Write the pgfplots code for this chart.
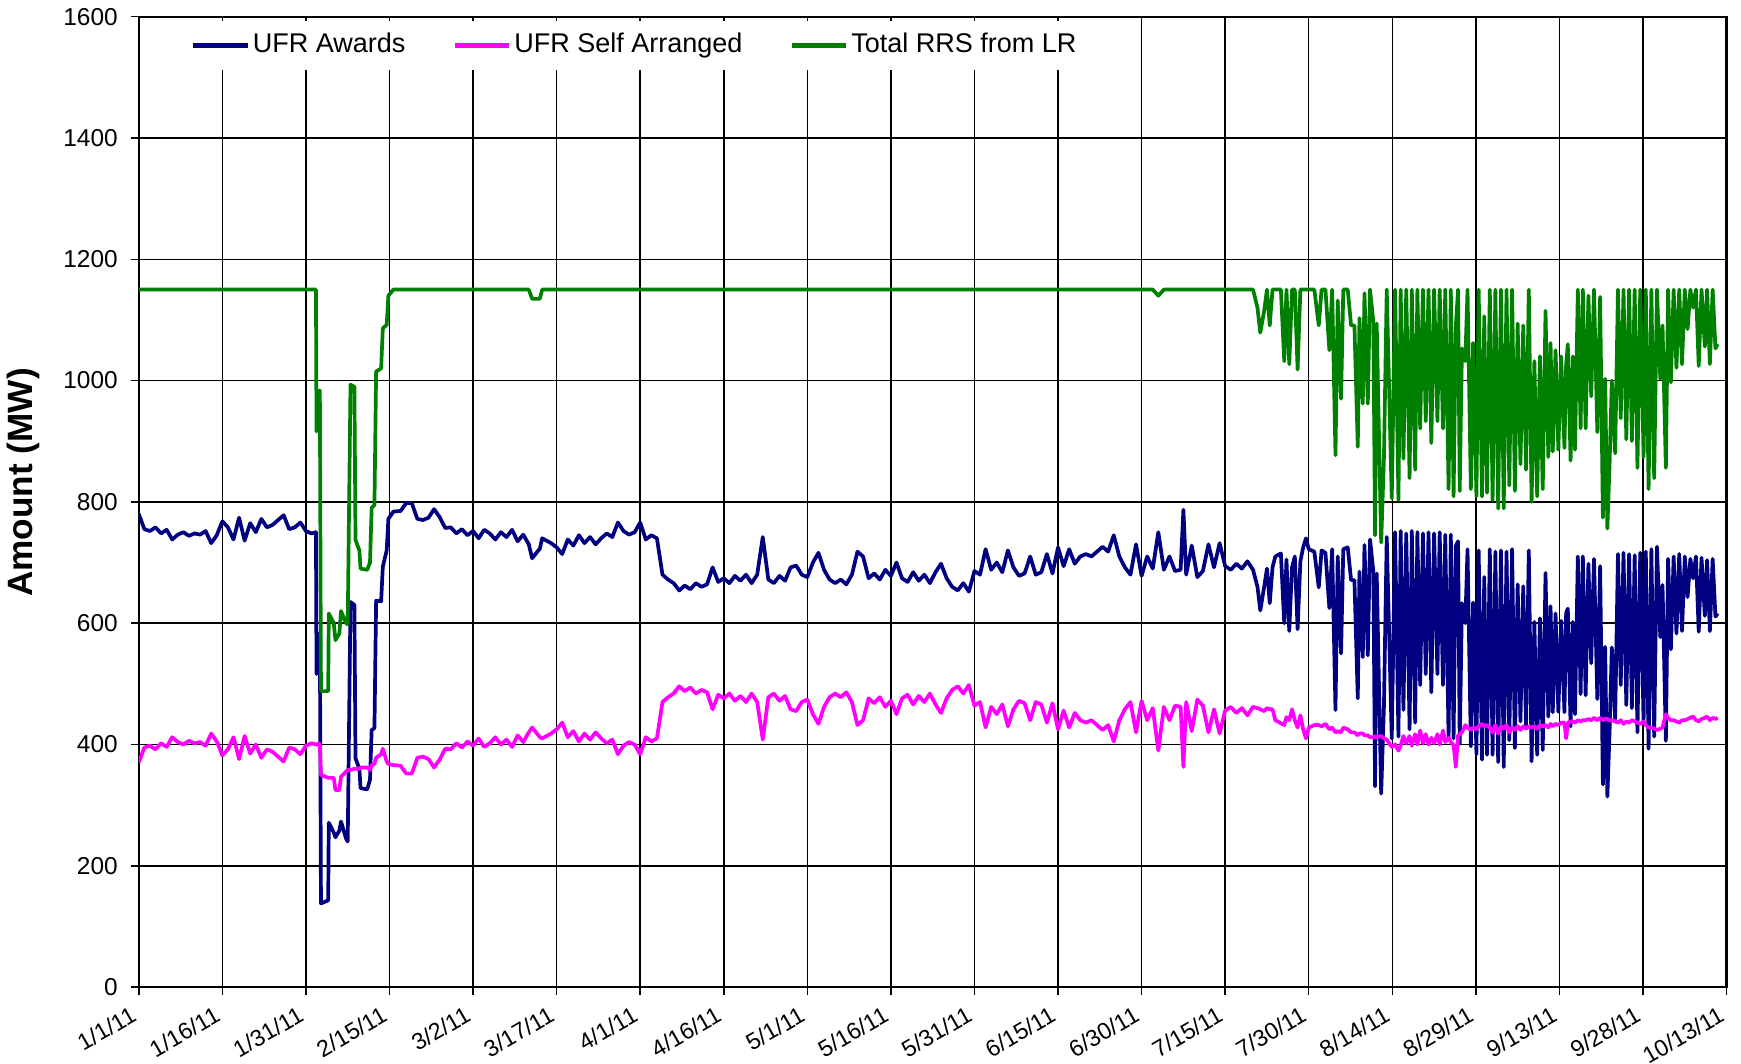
\documentclass[border=0pt]{standalone}
\usepackage{fontspec}
\setmainfont{Liberation Sans}
\usepackage{pgfplots}
\usepackage{pgfplotstable}
\pgfplotsset{compat=1.18}
\definecolor{cnavy}{RGB}{0,0,128}
\definecolor{cmag}{RGB}{255,0,255}
\definecolor{cgreen}{RGB}{0,128,0}

\pgfplotstableread{
d tot self awd
0 1150 370 780
1 1150 395 755
2 1150 398 752
3 1150 392 758
4 1150 402 748
5 1150 396 754
6 1150 412 738
7 1150 404 746
8 1150 400 750
9 1150 406 744
10 1150 402 748
11 1150 404 746
12 1150 398 752
13 1150 418 732
14 1150 405 745
15 1150 382 768
16 1150 392 758
17 1150 412 738
18 1150 376 774
19 1150 414 736
20 1150 385 765
21 1150 400 750
22 1150 378 772
23 1150 392 758
24 1150 388 762
25 1150 380 770
26 1150 372 778
27 1150 395 755
28 1150 392 758
29 1150 384 766
30 1150 398 752
31 1150 402 748
31.8 1150 400 750
31.9 916 400 516
32.1 984 400 584
32.3 920 402 518
32.5 984 400 584
32.7 488 350 138
34.0 488 345 143
34.1 616 345 271
35.0 600 345 255
35.3 572 325 247
36.0 583 325 258
36.3 620 347 273
37.2 600 355 245
37.5 598 358 240
38.0 993 358 635
38.7 990 360 630
38.9 737 360 377
39.6 720 360 360
39.8 690 362 328
41.0 688 362 326
41.5 700 358 342
41.8 790 366 424
42.3 795 368 427
42.6 1015 378 637
43.5 1020 384 636
43.8 1086 393 693
44.5 1092 372 720
44.8 1140 368 772
45.7 1150 366 784
47 1150 365 785
48 1150 352 798
49 1150 352 798
50 1150 378 772
51 1150 380 770
52 1150 376 774
53 1150 362 788
54 1150 375 775
55 1150 393 757
56 1150 392 758
57 1150 402 748
58 1150 395 755
59 1150 405 745
60 1150 398 752
61 1150 410 740
62 1150 396 754
63 1150 402 748
64 1150 412 738
65 1150 400 750
66 1150 408 742
67 1150 396 754
68 1150 415 735
69 1150 404 746
70 1150 420 730
70.6 1135 428 707
72 1135 412 723
72.4 1150 410 740
74 1150 418 732
75 1150 425 725
76 1150 436 714
77 1150 412 738
78 1150 422 728
79 1150 405 745
80 1150 418 732
81 1150 408 742
82 1150 420 730
83 1150 410 740
84 1150 402 748
85 1150 408 742
86 1150 384 766
87 1150 398 752
88 1150 404 746
89 1150 400 750
90 1150 384 766
91 1150 412 738
92 1150 405 745
93 1150 410 740
94 1150 470 680
95 1150 478 672
96 1150 484 666
97 1150 496 654
98 1150 488 662
99 1150 494 656
100 1150 484 666
101 1150 490 660
102 1150 486 664
103 1150 458 692
104 1150 482 668
105 1150 476 674
106 1150 484 666
107 1150 472 678
108 1150 480 670
109 1150 470 680
110 1150 484 666
111 1150 470 680
112 1150 408 742
113 1150 478 672
114 1150 484 666
115 1150 472 678
116 1150 480 670
117 1150 458 692
118 1150 455 695
119 1150 470 680
120 1150 474 676
121 1150 450 700
122 1150 434 716
123 1150 462 688
124 1150 478 672
125 1150 484 666
126 1150 478 672
127 1150 486 664
128 1150 470 680
129 1150 432 718
130 1150 440 710
131 1150 476 674
132 1150 468 682
133 1150 478 672
134 1150 462 688
135 1150 472 678
136 1150 450 700
137 1150 476 674
138 1150 482 668
139 1150 466 684
140 1150 480 670
141 1150 470 680
142 1150 484 666
143 1150 466 684
144 1150 452 698
145 1150 476 674
146 1150 490 660
147 1150 496 654
148 1150 484 666
149 1150 498 652
150 1150 464 686
151 1150 470 680
152 1150 428 722
153 1150 462 688
154 1150 450 700
155 1150 466 684
156 1150 430 720
157 1150 458 692
158 1150 472 678
159 1150 468 682
160 1150 440 710
161 1150 470 680
162 1150 466 684
163 1150 436 714
164 1150 468 682
165 1150 425 725
166 1150 456 694
167 1150 428 722
168 1150 452 698
169 1150 440 710
170 1150 436 714
171 1150 440 710
172 1150 432 718
173 1150 424 726
174 1150 432 718
175 1150 405 745
176 1150 440 710
177 1150 458 692
178 1150 470 680
179 1150 420 730
180 1150 472 678
181 1150 440 710
182 1150 460 690
183 1140 390 750
184 1150 462 688
185 1150 440 710
186 1150 464 686
187 1150 462 688
187.5 1150 363 787
188 1150 470 680
189 1150 422 728
190 1150 474 676
191 1150 464 686
192 1150 420 730
193 1150 458 692
194 1150 418 732
195 1150 456 694
196 1150 462 688
197 1150 452 698
198 1150 460 690
199 1150 448 702
200 1150 462 688
200.8 1120 460 660
201.3 1079 458 621
202 1115 455 660
202.5 1150 460 690
203 1091 458 633
203.5 1150 458 692
204 1150 440 710
205 1150 435 715
205.6 1032 432 600
206 1150 445 705
206.5 1027 440 587
207 1150 458 692
207.5 1150 440 710
208 1018 428 590
208.5 1150 448 702
209 1150 425 725
209.5 1150 410 740
210 1150 428 722
211 1150 432 718
211.8 1091 432 659
212.3 1150 430 720
213 1150 434 716
213.7 1050 425 625
214.2 1150 428 722
214.8 877 420 457
215.2 1132 422 710
215.8 970 420 550
216.2 1150 428 722
217 1150 425 725
217.6 1091 420 671
218.2 1091 420 671
218.8 891 415 476
219.1 1103 418 685
219.7 962 418 544
220 1144 415 729
220.6 962 415 547
221 1150 412 738
221.6 1097 412 685
221.9 745 414 331
222.2 1094 412 682
223 733 414 319
223.5 874 410 464
224 1150 408 742
224.9 806 396 410
225.5 1150 400 750
226.1 803 390 413
226.5 1150 398 752
227 871 414 457
227.5 1150 402 748
228.1 839 414 425
228.5 1150 398 752
229.1 853 417 436
229.5 1150 400 750
230 921 423 498
230.5 1150 402 748
231 933 417 516
231.5 1150 400 750
232 897 411 486
232.5 1150 402 748
233.1 933 417 516
233.5 1150 400 750
234.1 921 423 498
234.5 1150 404 746
235.1 821 411 410
235.5 1150 404 746
236 809 399 410
236.4 1090 363 727
236.8 1150 415 735
237.1 818 417 401
237.5 1053 420 633
238.1 1032 432 600
238.5 1150 428 722
239.1 821 424 397
239.5 1062 428 634
240.1 809 425 384
240.5 1150 430 720
241.1 809 434 375
241.5 1106 430 676
242 815 432 383
242.5 1150 428 722
243 803 420 383
243.5 1150 432 718
244 789 418 371
244.5 1150 430 720
245 789 426 363
245.5 1150 432 718
246 827 420 407
246.5 1150 428 722
247 818 424 394
247.5 1094 430 664
248 862 424 438
248.5 1091 430 661
249 853 426 427
249.5 1150 430 720
250 800 428 372
250.5 1032 430 602
251 809 426 383
251.5 1040 432 608
252 821 430 391
252.5 1115 432 683
253 874 428 446
253.4 1062 434 628
253.8 883 430 453
254.3 1050 434 616
254.8 886 432 454
255.3 1040 436 604
255.9 889 436 453
256.2 1027 410 617
256.5 1060 436 624
257 868 438 430
257.4 1040 438 602
257.8 886 436 450
258.3 1150 440 710
258.8 921 438 483
259.2 1150 440 710
259.7 921 440 481
260.2 1140 442 698
260.7 974 440 534
261.2 1150 444 706
261.8 915 440 475
262.3 1138 444 694
262.8 774 440 334
263.2 1003 442 561
263.6 756 442 314
264 862 440 422
264.4 1000 440 560
265 880 438 442
265.5 1150 436 714
266 938 440 498
266.5 1150 434 716
267 903 438 465
267.5 1150 436 714
268 900 440 460
268.5 1150 438 712
269 856 436 420
269.5 1150 434 716
270.1 874 438 436
270.5 1150 432 718
271 821 428 393
271.5 1150 428 722
272 839 426 413
272.5 1150 424 726
273.1 1003 426 577
273.5 1091 428 663
274.1 856 450 406
274.5 1150 444 706
275 997 440 557
275.5 1150 440 710
276 1021 438 583
276.5 1150 436 714
277 1027 440 587
277.5 1150 440 710
278 1085 442 643
278.5 1150 444 706
279 1120 446 674
279.5 1150 440 710
280 1024 438 586
280.5 1150 442 708
281.1 1056 444 612
281.5 1150 446 704
282 1027 440 587
282.5 1150 444 706
283 1053 442 611
283.4 1060 444 616
}\data

\begin{document}
\begin{tikzpicture}
\begin{axis}[
  scale only axis,
  width=429pt, height=262.2pt,
  xmin=0, xmax=285, ymin=0, ymax=1600,
  xtick={0,15,...,285},
  xticklabels={1/1/11,1/16/11,1/31/11,2/15/11,3/2/11,3/17/11,4/1/11,4/16/11,5/1/11,5/16/11,5/31/11,6/15/11,6/30/11,7/15/11,7/30/11,8/14/11,8/29/11,9/13/11,9/28/11,10/13/11},
  ytick={0,200,...,1600},
  xtick pos=left, ytick pos=left,
  tick align=outside,
  major tick length=2.1pt,
  tick style={black, line width=0.4pt},
  grid=major,
  major grid style={black, line width=0.4pt},
  axis line style={black, line width=0.6pt},
  /pgf/number format/assume math mode=true,
  /pgf/number format/1000 sep={},
  yticklabel style={font=\fontsize{6.6}{7.5}\selectfont, inner sep=1pt, xshift=-2.4pt},
  xticklabel style={font=\fontsize{6.3}{7.2}\selectfont, rotate=30, anchor=north east, inner sep=1pt, xshift=-2.4pt},
  ylabel={Amount (MW)},
  ylabel style={font=\fontsize{9.5}{11}\selectfont\bfseries, at={(axis description cs:-0.0727,0.52)}, anchor=center},
  legend columns=3,
  legend style={at={(axis description cs:0.0245,0.9966)}, anchor=north west, draw=none, fill=white,
    font=\fontsize{7.3}{8.5}\selectfont, inner xsep=3.5pt, inner ysep=2.5pt,
    /tikz/every even column/.append style={column sep=12pt},
    nodes={inner sep=0.8pt}},
  legend image code/.code={\draw[#1, line width=1.1pt] (0pt,0pt) -- (14.7pt,0pt);},
  every axis plot/.append style={line width=1.0pt, line join=round},
]
\addplot[cnavy] table[x=d, y=awd] {\data};
\addlegendentry{UFR Awards}
\addplot[cmag] table[x=d, y=self] {\data};
\addlegendentry{UFR Self Arranged}
\addplot[cgreen] table[x=d, y=tot] {\data};
\addlegendentry{Total RRS from LR}
\coordinate (SW) at (rel axis cs:0,0);
\coordinate (NE) at (rel axis cs:1,1);
\end{axis}
\pgfresetboundingbox
\path ([xshift=-37.5pt,yshift=-20.7pt]SW) rectangle ([xshift=3.9pt,yshift=4.5pt]NE);
\end{tikzpicture}
\end{document}
